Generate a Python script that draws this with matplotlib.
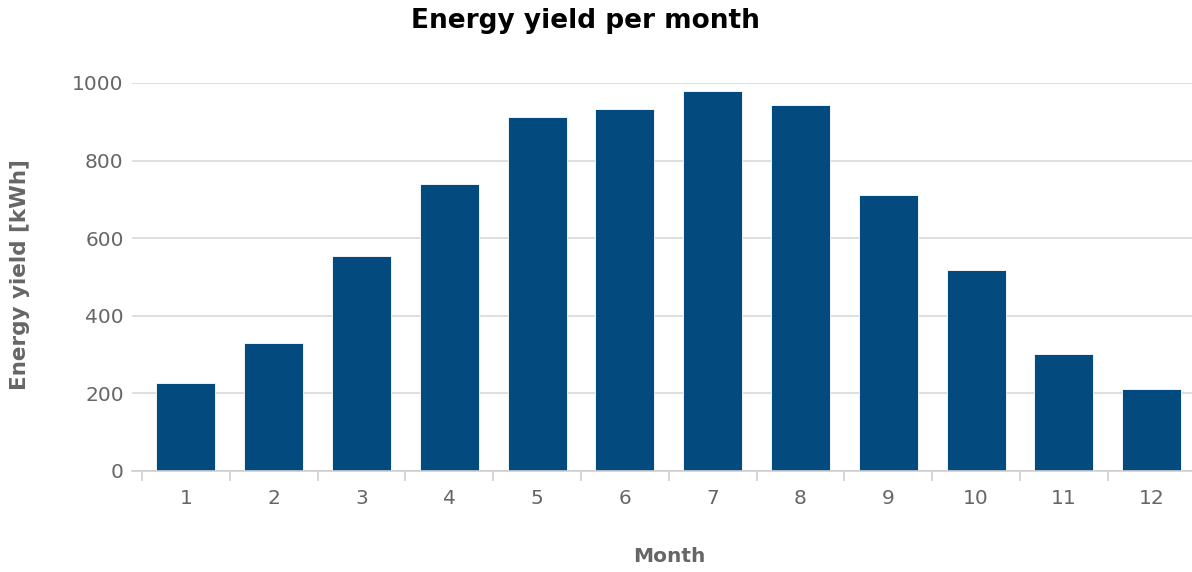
import matplotlib
matplotlib.use("Agg")
import matplotlib.pyplot as plt
from matplotlib.ticker import FixedLocator

months = ["1", "2", "3", "4", "5", "6", "7", "8", "9", "10", "11", "12"]
yield_kwh = [226, 329, 553, 739, 912, 932, 979, 943, 711, 517, 301, 211]
y_ticks = [0, 200, 400, 600, 800, 1000]

W, H = 1192, 572
fig = plt.figure(figsize=(W / 100, H / 100), dpi=100)
plot_left, plot_right, plot_top, plot_bottom = 132, 1192, 83, 471
ax = fig.add_axes([plot_left / W, (H - plot_bottom) / H,
                   (plot_right - plot_left) / W, (plot_bottom - plot_top) / H])

cat_w = 87.8
first_boundary = 142
x0 = 0.5 - (first_boundary - plot_left) / cat_w
x1 = 0.5 + (plot_right - first_boundary) / cat_w
pos = list(range(1, len(months) + 1))

ax.bar(pos, yield_kwh, width=0.67, color="#034a7e", edgecolor="white",
       linewidth=0.6, zorder=3)

ax.set_xlim(x0, x1)
ax.set_ylim(0, 1000)
ax.set_yticks(y_ticks)
ax.set_yticklabels([str(v) for v in y_ticks])
ax.set_xticks(pos)
ax.set_xticklabels(months)
ax.xaxis.set_minor_locator(FixedLocator([p - 0.5 for p in pos]))

ax.grid(axis="y", color="#d9d9d9", linewidth=1.2, zorder=0)
ax.grid(axis="x", visible=False)
for s in ["top", "right", "left"]:
    ax.spines[s].set_visible(False)
ax.spines["bottom"].set_color("#cfcfcf")
ax.spines["bottom"].set_linewidth(1.2)
ax.spines["bottom"].set_zorder(4)

ax.tick_params(axis="y", length=0, pad=6, labelsize=14.5, labelcolor="#666666")
ax.tick_params(axis="x", which="major", length=0, pad=13, labelsize=14.5,
               labelcolor="#666666")
ax.tick_params(axis="x", which="minor", length=7, width=1.2, color="#cfcfcf")

fig.text(585 / W, 1 - 21 / H,
         "Energy yield per month", ha="center", va="center",
         fontsize=19, fontweight="bold", color="#000000")
fig.text(669 / W, 1 - 557 / H, "Month",
         ha="center", va="center", fontsize=14.5, fontweight="bold",
         color="#666666")
fig.text(20 / W, 1 - 275 / H, "Energy yield [kWh]", ha="center", va="center",
         rotation=90, fontsize=15.5, fontweight="bold", color="#666666")

fig.savefig("out.png", dpi=100)
